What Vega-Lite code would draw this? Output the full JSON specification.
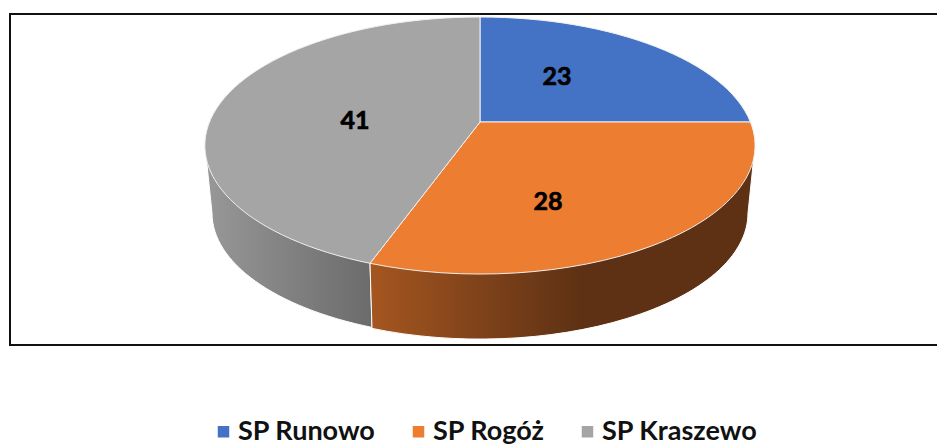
{
"$schema":"https://vega.github.io/schema/vega-lite/v6.json",
"width":940,"height":331,
"autosize":{"type":"none"},
"padding":{"left":10,"top":14,"right":0,"bottom":101},
"background":"white",
"config":{"view":{"stroke":"#111111","strokeWidth":2,"fill":"white"}},
"data":{"values":[
{"school":"SP Runowo","value":23},
{"school":"SP Rogóż","value":28},
{"school":"SP Kraszewo","value":41}
]},
"layer":[
{"mark":{"type":"square","size":0,"opacity":1},
 "encoding":{
  "color":{"field":"school","type":"nominal","sort":null,
   "scale":{"domain":["SP Runowo","SP Rogóż","SP Kraszewo"],"range":["#4472c4","#ed7d31","#a5a5a5"]},
   "legend":{"orient":"none","direction":"horizontal","legendX":200,"legendY":404,"title":null,"padding":0,"symbolType":"square","symbolSize":132,"symbolStrokeWidth":0,"columnPadding":29,"labelOffset":1,"labelFont":"Lato","labelFontWeight":"bold","labelFontSize":27,"labelColor":"#111111","labelLimit":300}}
 }},
{"transform":[{"filter":"datum.school==='SP Kraszewo'"}],
 "mark":{"type":"point","filled":true,"opacity":1,"size":4,"shape":"M-275,-34 L-268,33.5 A268,125 0 0 0 -108,147.9 L-110,83.8 Z","stroke":"white","strokeWidth":1,
 "fill":{"x1":0,"y1":0,"x2":1,"y2":0,"gradient":"linear","stops":[{"offset":0,"color":"#989898"},{"offset":1,"color":"#6b6b6b"}]}},
 "encoding":{}},
{"transform":[{"filter":"datum.school==='SP Rogóż'"}],
 "mark":{"type":"point","filled":true,"opacity":1,"size":4,"shape":"M-110,83.8 L-108,148.9 A268,126 0 0 0 268,33.5 L275,-34 Z","stroke":"white","strokeWidth":1,
 "fill":{"x1":0,"y1":0,"x2":1,"y2":0,"gradient":"linear","stops":[{"offset":0,"color":"#a65620"},{"offset":0.28,"color":"#7f431a"},{"offset":0.55,"color":"#5e3114"},{"offset":1,"color":"#5e3114"}]}},
 "encoding":{}},
{"transform":[{"filter":"datum.school==='SP Runowo'"}],
 "mark":{"type":"point","filled":true,"opacity":1,"size":4,"stroke":"#f0f0f0","strokeWidth":1,"shape":"M0,-57.5 L0,-162.5 A275,128.5 0 0 1 270.4,-57.5 Z"},
 "encoding":{"color":{"field":"school","type":"nominal","legend":null}}},
{"transform":[{"filter":"datum.school==='SP Rogóż'"}],
 "mark":{"type":"point","filled":true,"opacity":1,"size":4,"stroke":"#f0f0f0","strokeWidth":1,"shape":"M0,-57.5 L270.4,-57.5 A275,128.5 0 0 1 -110,83.8 Z"},
 "encoding":{"color":{"field":"school","type":"nominal","legend":null}}},
{"transform":[{"filter":"datum.school==='SP Kraszewo'"}],
 "mark":{"type":"point","filled":true,"opacity":1,"size":4,"stroke":"#f0f0f0","strokeWidth":1,"shape":"M0,-57.5 L-110,83.8 A275,128.5 0 0 1 0,-162.5 Z"},
 "encoding":{"color":{"field":"school","type":"nominal","legend":null}}},
{"mark":{"type":"text","font":"Lato","fontWeight":"bold","fontSize":25,"color":"black","stroke":"black","strokeWidth":0.7,"align":"center","baseline":"middle"},
 "encoding":{
  "text":{"field":"value","type":"quantitative"},
  "x":{"field":"value","type":"quantitative","axis":null,"scale":{"zero":false,"nice":false,"domain":[23,28,41],"range":[547,538,345]}},
  "y":{"field":"value","type":"quantitative","axis":null,"scale":{"zero":false,"nice":false,"domain":[23,28,41],"range":[63,188,107]}}
 }}
]
}
